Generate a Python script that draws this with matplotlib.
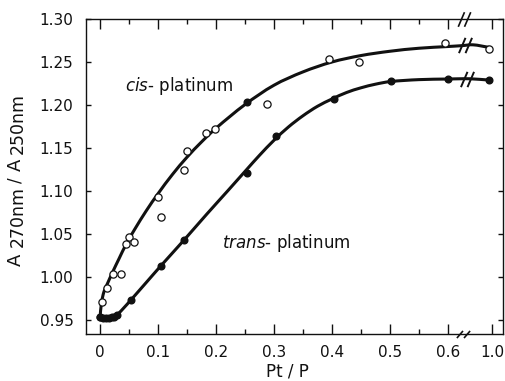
import numpy as np
import matplotlib
matplotlib.use("Agg")
import matplotlib.pyplot as plt
from matplotlib.path import Path
from matplotlib.patches import PathPatch

# ---------------- data ----------------
# cis-platinum, open circles
cis_open_x = [0.003, 0.0116, 0.022, 0.036, 0.045, 0.050, 0.059, 0.0995, 0.105,
              0.144, 0.150, 0.182, 0.198, 0.288, 0.395, 0.447, 0.594, 0.995]
cis_open_y = [0.971, 0.9876, 1.003, 1.003, 1.038, 1.046, 1.041, 1.093, 1.070,
              1.124, 1.147, 1.168, 1.172, 1.201, 1.254, 1.250, 1.272, 1.265]
# cis-platinum points that appear solid
cis_solid_x = [0.0, 0.253]
cis_solid_y = [0.953, 1.203]

# trans-platinum, filled circles
trans_x = [0.0, 0.005, 0.010, 0.015, 0.020, 0.025, 0.030, 0.053, 0.105, 0.145,
           0.253, 0.303, 0.404, 0.502, 0.600, 0.995]
trans_y = [0.953, 0.952, 0.952, 0.952, 0.953, 0.954, 0.956, 0.973, 1.013, 1.043,
           1.121, 1.164, 1.207, 1.228, 1.230, 1.229]

# hand-drawn fit curves
cis_curve_x = [0.0, 0.0026, 0.0069, 0.012, 0.022, 0.033, 0.045, 0.060, 0.080,
               0.100, 0.125, 0.150, 0.175, 0.200, 0.250, 0.300, 0.350, 0.400,
               0.450, 0.500, 0.550, 0.600, 0.624, 0.967, 0.995]
cis_curve_y = [0.952, 0.970, 0.983, 0.991, 1.006, 1.0215, 1.038, 1.0556, 1.0772,
               1.0968, 1.1193, 1.1393, 1.157, 1.173, 1.2005, 1.223, 1.2385, 1.250,
               1.2575, 1.2625, 1.266, 1.268, 1.269, 1.270, 1.267]
trans_curve_x = [0.0, 0.0138, 0.024, 0.031, 0.041, 0.053, 0.079, 0.105, 0.145,
                 0.184, 0.220, 0.253, 0.275, 0.300, 0.325, 0.350, 0.375, 0.400,
                 0.425, 0.450, 0.475, 0.500, 0.550, 0.600, 0.621, 0.962, 0.995]
trans_curve_y = [0.952, 0.952, 0.9535, 0.957, 0.964, 0.973, 0.993, 1.013, 1.043,
                 1.073, 1.100, 1.125, 1.1415, 1.159, 1.1745, 1.1875, 1.1985, 1.207,
                 1.2145, 1.2200, 1.2242, 1.2272, 1.2295, 1.2302, 1.2305, 1.2305, 1.229]

xtick_vals = [0.0, 0.1, 0.2, 0.3, 0.4, 0.5, 0.6, 1.0]
xtick_labels = ["0", "0.1", "0.2", "0.3", "0.4", "0.5", "0.6", "1.0"]
xminor_vals = [0.05, 0.15, 0.25, 0.35, 0.45, 0.55]
ytick_vals = [0.95, 1.00, 1.05, 1.10, 1.15, 1.20, 1.25, 1.30]
ytick_labels = ["0.95", "1.00", "1.05", "1.10", "1.15", "1.20", "1.25", "1.30"]

# broken x axis: values near 1.0 are shifted left next to 0.6
BREAK_SHIFT = 0.3241


def brk(v):
    v = np.asarray(v, dtype=float)
    return np.where(v > 0.8, v - BREAK_SHIFT, v)


W, H = 506, 381
fig = plt.figure(figsize=(W / 100, H / 100), dpi=100)
fig.patch.set_facecolor("white")
ax = fig.add_axes([86 / W, 47 / H, 417 / W, 315 / H])
ax.set_xlim(-0.0241, 0.6948)
ax.set_ylim(0.9337, 1.30)

ink = "#111111"


def smooth_curve(ax, xs, ys, **kw):
    """Draw a smooth Bezier path through the given points (tangent-based)."""
    pts = ax.transData.transform(np.column_stack([xs, ys]))
    n = len(pts)
    tans = []
    for i in range(n):
        if i == 0:
            t = pts[1] - pts[0]
        elif i == n - 1:
            t = pts[-1] - pts[-2]
        else:
            t = pts[i + 1] - pts[i - 1]
        tans.append(t / np.hypot(*t))
    verts = [pts[0]]
    codes = [Path.MOVETO]
    for i in range(n - 1):
        d = np.hypot(*(pts[i + 1] - pts[i]))
        verts += [pts[i] + tans[i] * d / 3, pts[i + 1] - tans[i + 1] * d / 3, pts[i + 1]]
        codes += [Path.CURVE4] * 3
    verts = ax.transData.inverted().transform(np.array(verts))
    ax.add_patch(PathPatch(Path(verts, codes), fill=False, **kw))


smooth_curve(ax, brk(cis_curve_x), cis_curve_y, edgecolor=ink, lw=2.2,
             capstyle="round", joinstyle="round", zorder=2)
smooth_curve(ax, brk(trans_curve_x), trans_curve_y, edgecolor=ink, lw=2.2,
             capstyle="round", joinstyle="round", zorder=2)
ax.plot(brk(cis_open_x), cis_open_y, "o", ms=5.2, mfc="white", mec=ink, mew=0.9,
        zorder=3, clip_on=False)
ax.plot(brk(cis_solid_x), cis_solid_y, "o", ms=4.8, color=ink, zorder=3, clip_on=False)
ax.plot(brk(trans_x), trans_y, "o", ms=4.8, color=ink, zorder=3, clip_on=False)

# break marks "//"
brk_big = Path([(-6, -7), (0, 7), (0, -7), (6, 7)],
               [Path.MOVETO, Path.LINETO, Path.MOVETO, Path.LINETO])
brk_small = Path([(-6.5, -3.5), (-0.5, 3.5), (0.5, -3.5), (6.5, 3.5)],
                 [Path.MOVETO, Path.LINETO, Path.MOVETO, Path.LINETO])
ax.plot([0.6276], [1.30], marker=brk_big, ms=10.5, mew=1.2, color=ink,
        clip_on=False, zorder=5, ls="none")
ax.plot([0.629], [1.270], marker=brk_big, ms=11, mew=1.4, color=ink,
        clip_on=False, zorder=5, ls="none")
ax.plot([0.633], [1.2305], marker=brk_big, ms=11, mew=1.4, color=ink,
        clip_on=False, zorder=5, ls="none")
ax.plot([0.626], [0.9337], marker=brk_small, ms=9.5, mew=1.2, color=ink,
        clip_on=False, zorder=5, ls="none")

# ticks
ax.set_xticks(brk(xtick_vals))
ax.set_xticklabels(xtick_labels)
ax.set_xticks(brk(xminor_vals), minor=True)
ax.set_yticks(ytick_vals)
ax.set_yticklabels(ytick_labels)
ax.tick_params(axis="x", which="major", direction="in", length=7, width=1.0,
               top=True, labelsize=11, pad=8, colors=ink)
ax.tick_params(axis="x", which="minor", direction="in", length=3.5, width=1.0,
               top=True, colors=ink)
ax.tick_params(axis="y", which="major", direction="in", length=3.5, width=1.0,
               right=True, labelsize=11, pad=9, colors=ink)
for s in ax.spines.values():
    s.set_linewidth(1.0)
    s.set_color(ink)


def px(x, y):
    return x / W, 1 - y / H


# annotations
fig.text(*px(125, 86), r"$\mathit{cis}$- platinum", fontsize=12, ha="left",
         va="center", color=ink)
fig.text(*px(222, 243), r"$\mathit{trans}$- platinum", fontsize=12, ha="left",
         va="center", color=ink)

# axis labels
fig.text(*px(287, 372), "Pt / P", fontsize=12, ha="center", va="center", color=ink)
ylabel_parts = [("A", 16, 259.5, 13), ("270nm", 18, 216.5, 12.5), ("/", 16, 180, 12),
                ("A", 16, 165, 13), ("250nm", 18, 123.5, 12.5)]
for txt, x, y, fs in ylabel_parts:
    fig.text(*px(x, y), txt, fontsize=fs, rotation=90, ha="center", va="center",
             color=ink)

fig.savefig("out.png", dpi=100, facecolor="white")
